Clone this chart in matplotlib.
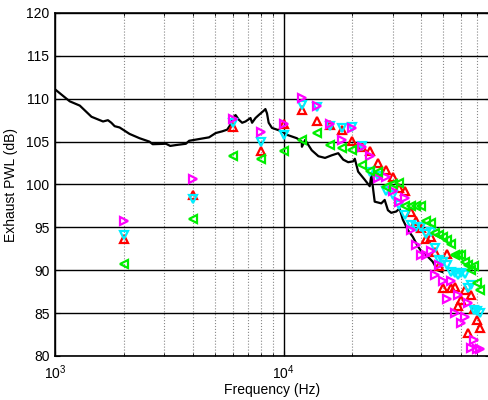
import matplotlib
matplotlib.use("Agg")
import matplotlib.pyplot as plt

plt.rcParams['font.family'] = ['Liberation Sans', 'DejaVu Sans']

# measured spectrum (black line)
line_freq = [1000, 1160, 1284, 1444, 1622, 1705, 1764, 1824, 1917, 2119, 2342, 2588,
             2675, 3060, 3192, 3382, 3737, 3864, 4270, 4720, 5047, 5391, 5668, 5865,
             5959, 6166, 6374, 6589, 6815, 7166, 7282, 7534, 7786, 8185, 8326, 8461,
             8606, 8896, 9352, 9832, 10335, 10866, 11423, 12011, 12030, 12427, 13274,
             14202, 15185, 16220, 17340, 18235, 19170, 20160, 20500, 21190, 22660,
             23820, 24210, 25040, 26760, 27690, 28610, 29580, 31100, 32170, 33250,
             34960, 36750, 38640, 40620, 42700, 44900, 47200, 49500]
line_db = [111.1, 109.7, 109.2, 107.9, 107.35, 107.5, 107.2, 106.8, 106.65, 105.9, 105.4, 105.0,
           104.7, 104.75, 104.5, 104.6, 104.75, 105.1, 105.3, 105.5, 106.0, 106.2, 106.4, 107.0,
           107.7, 108.1, 107.55, 107.2, 107.35, 107.75, 107.2, 107.75, 108.1, 108.6, 108.8, 108.3,
           107.2, 106.6, 106.4, 106.2, 105.8, 105.6, 105.4, 105.0, 104.4, 105.2, 104.0,
           103.3, 103.1, 103.4, 103.65, 102.9, 102.6, 102.7, 103.0, 101.5, 100.55,
           99.8, 101.1, 98.0, 97.8, 98.2, 97.0, 96.7, 96.85, 97.2, 95.9,
           94.7, 93.9, 92.8, 92.0, 91.6, 91.0, 90.0, 89.8]

# predicted levels at 2 kHz steps
freq = [2000 * k for k in range(1, 37)]
red = [93.7, 98.8, 106.7, 103.85, 107.1, 108.65, 107.4, 106.9, 106.4, 105.1, 104.35, 103.85,
       102.5, 101.65, 100.85, 99.6, 99.3, 96.85, 95.8, 94.9, 93.6, 93.9, 92.1, 90.5,
       87.9, 91.9, 87.9, 88.0, 85.8, 86.5, 87.7, 82.65, 87.1, 85.5, 84.2, 83.25]
cyan = [94.1, 98.3, 107.2, 105.0, 105.8, 109.3, 109.0, 106.8, 106.6, 106.7, 104.5, 101.5,
        101.0, 99.2, 98.8, 97.6, 96.5, 95.3, 95.0, 95.1, 94.2, 94.5, 92.6, 91.2,
        91.0, 90.6, 89.85, 89.7, 89.45, 89.7, 89.6, 87.9, 88.3, 85.4, 85.2, 85.0]
magenta = [95.7, 100.65, 107.65, 106.1, 107.0, 110.1, 109.2, 107.0, 105.2, 106.6, 104.35, 103.35,
           100.75, 100.85, 99.3, 98.0, 98.4, 94.7, 93.0, 91.8, 91.8, 92.3, 89.5, 90.6,
           88.7, 86.7, 88.7, 85.0, 87.1, 83.9, 84.6, 86.2, 80.9, 81.9, 80.8, 80.8]
green = [90.75, 96.0, 103.3, 103.0, 103.9, 105.2, 106.0, 104.6, 104.2, 104.05, 102.3, 101.6,
         101.5, 99.7, 100.1, 100.2, 97.5, 97.45, 97.5, 97.45, 95.7, 95.5, 94.3, 94.1,
         93.9, 93.5, 93.1, 91.8, 91.8, 91.8, 91.0, 90.6, 90.0, 90.5, 88.5, 87.7]

fig = plt.figure(figsize=(4.89, 4.0), dpi=100)
ax = fig.add_axes([55 / 489, 44 / 400, 435 / 489, 343 / 400])

ax.semilogx(line_freq, line_db, color='black', lw=1.6, zorder=3)

mk = dict(linestyle='none', ms=5.5, mfc='none', mew=1.6, zorder=4)
ax.plot(freq, red, marker='^', color='#ff0000', **mk)
ax.plot(freq, cyan, marker='v', color='#00eeff', **mk)
ax.plot(freq, magenta, marker='>', color='#ff00ff', **mk)
ax.plot(freq, green, marker='<', color='#00ee00', **mk)

ax.set_xlim(1000, 80000)
ax.set_ylim(80, 120)
ax.set_yticks(range(80, 121, 5))

ax.grid(True, which='major', axis='both', color='black', linestyle='-', lw=1.0)
ax.grid(True, which='minor', axis='x', color='#888888', linestyle=':', lw=0.8)
ax.tick_params(which='both', direction='in', top=True, right=True, labelsize=10)
ax.tick_params(axis='x', pad=5)
ax.tick_params(axis='y', pad=4)
for s in ax.spines.values():
    s.set_linewidth(1.2)

ax.set_xlabel('Frequency (Hz)', fontsize=10, labelpad=1)
ax.set_ylabel('Exhaust PWL (dB)', fontsize=10, labelpad=6)

fig.savefig('out.png', dpi=100)
